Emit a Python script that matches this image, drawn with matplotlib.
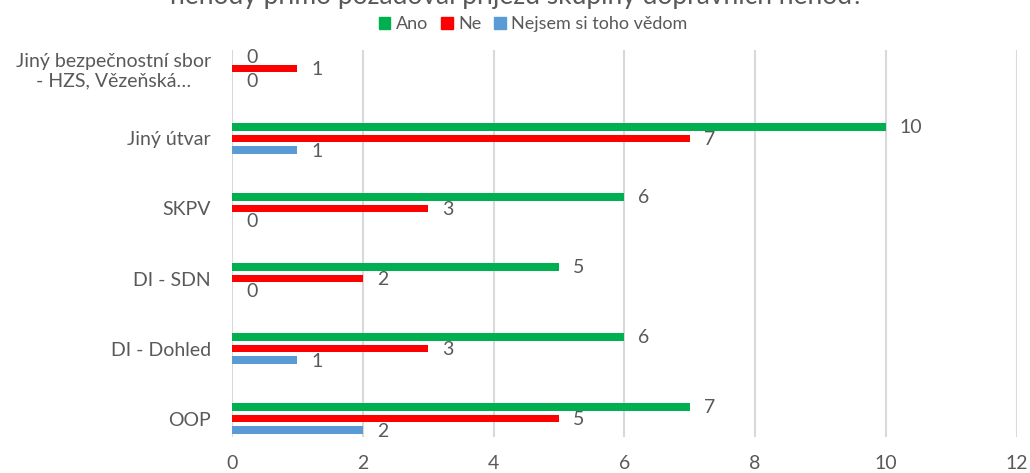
import matplotlib
matplotlib.use("Agg")
import matplotlib.pyplot as plt
import numpy as np
from matplotlib.patches import Patch

plt.rcParams["font.family"] = ["Lato", "DejaVu Sans"]

# data (bottom to top)
categories = ["OOP", "DI - Dohled", "DI - SDN", "SKPV", "Jiný útvar",
              "Jiný bezpečnostní sbor\n- HZS, Vězeňská…"]
ano = [7, 6, 5, 6, 10, 0]
ne = [5, 3, 2, 3, 7, 1]
nejsem = [2, 1, 0, 0, 1, 0]
series_names = ["Ano", "Ne", "Nejsem si toho vědom"]
x_ticks = [0, 2, 4, 6, 8, 10, 12]

GREEN, RED, BLUE = "#00b050", "#ff0000", "#5b9bd5"
TXT, GRID = "#595959", "#d9d9d9"

fig = plt.figure(figsize=(10.3, 4.73), dpi=100)
ax = fig.add_axes([0.2252, 0.0761, 0.7619, 0.8182])

y = np.arange(len(categories))
step, h = 0.167, 0.107
series = [(ano, GREEN, step), (ne, RED, 0.0), (nejsem, BLUE, -step)]
for vals, col, off in series:
    bars = ax.barh(y + off, vals, height=h, color=col, zorder=3)
    for b, v in zip(bars, vals):
        ax.annotate(str(v), (b.get_width(), b.get_y() + h / 2),
                    xytext=(14, -1), textcoords="offset pixels",
                    ha="left", va="center", fontsize=14, color=TXT)

ax.set_xlim(0, 12)
ax.set_ylim(-0.264, 5.264)
ax.set_xticks(x_ticks)
ax.set_yticks(y)
ax.set_yticklabels(categories, multialignment="center")
ax.tick_params(axis="both", length=0, labelsize=14, colors=TXT)
ax.tick_params(axis="x", pad=13)
ax.tick_params(axis="y", pad=15)
ax.grid(axis="x", color=GRID, lw=1.5, zorder=0)
for s in ax.spines.values():
    s.set_visible(False)

fig.text(0.502, 1 - 4 / 473, "Kdo na místě dopravní\nnehody přímo požadoval příjezd skupiny dopravních nehod?",
         ha="center", va="baseline", fontsize=19, color=TXT)

handles = [Patch(color=c) for c in (GREEN, RED, BLUE)]
fig.legend(handles, series_names, loc="center", bbox_to_anchor=(533 / 1030, 1 - 24 / 473),
           ncol=3, frameon=False, fontsize=13, labelcolor=TXT,
           handlelength=0.65, handleheight=0.65, handletextpad=0.3, columnspacing=0.7)

fig.savefig("out.png", dpi=100, facecolor="white")
